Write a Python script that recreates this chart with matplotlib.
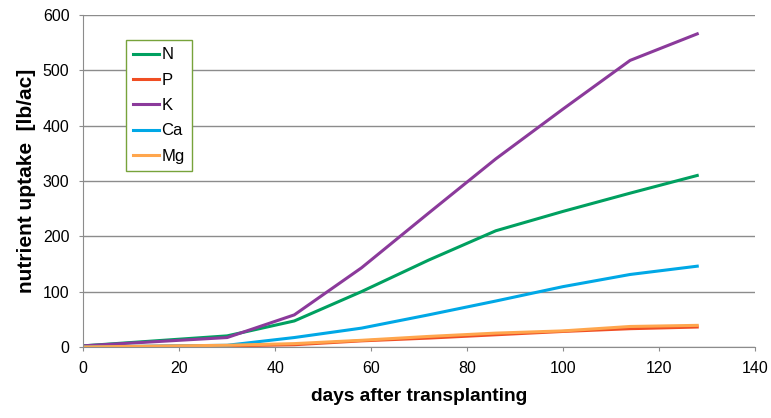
import matplotlib.pyplot as plt

plt.rcParams['font.family'] = ['Liberation Sans', 'DejaVu Sans']

days = [0, 30, 44, 58, 72, 86, 100, 114, 128]
n_uptake = [2, 20, 47, 100, 157, 210, 245, 278, 310]
p_uptake = [0, 2, 4, 11, 16, 22, 28, 33, 36]
k_uptake = [2, 17, 58, 143, 242, 340, 430, 518, 566]
ca_uptake = [0, 3, 17, 34, 58, 83, 109, 131, 146]
mg_uptake = [0, 3, 6, 12, 19, 25, 29, 37, 39]

series = [
    ("N", n_uptake, "#00A060"),
    ("P", p_uptake, "#F04E23"),
    ("K", k_uptake, "#8B3A9B"),
    ("Ca", ca_uptake, "#00A8E6"),
    ("Mg", mg_uptake, "#FFA64D"),
]

fig = plt.figure(figsize=(7.71, 4.18), dpi=100)
ax = fig.add_axes([0.108, 0.170, 0.871, 0.794])

for name, vals, col in series:
    ax.plot(days, vals, color=col, lw=2.2, label=name)

ax.set_xlim(0, 140)
ax.set_ylim(0, 600)
ax.set_xticks(range(0, 141, 20))
ax.set_yticks(range(0, 601, 100))
ax.yaxis.grid(True, color="#8c8c8c", lw=1)
ax.set_axisbelow(True)
for s in ("top", "right"):
    ax.spines[s].set_visible(False)
for s in ("left", "bottom"):
    ax.spines[s].set_color("#8c8c8c")
ax.tick_params(axis="both", colors="#8c8c8c", labelcolor="black", labelsize=11.5,
               length=3, pad=7)

ax.set_xlabel("days after transplanting", fontsize=13.8, fontweight="bold", labelpad=9)
ax.set_ylabel("nutrient uptake  [lb/ac]", fontsize=15, fontweight="bold", labelpad=5)

leg = ax.legend(loc="upper left", bbox_to_anchor=(0.063, 0.925), borderaxespad=0,
                frameon=True, fancybox=False, fontsize=12, handlelength=1.55,
                handletextpad=0.15, labelspacing=0.62, borderpad=0.45)
leg.get_frame().set_edgecolor("#77A33B")
leg.get_frame().set_linewidth(1)
leg.get_frame().set_alpha(1)

fig.savefig("out.png", dpi=100)
